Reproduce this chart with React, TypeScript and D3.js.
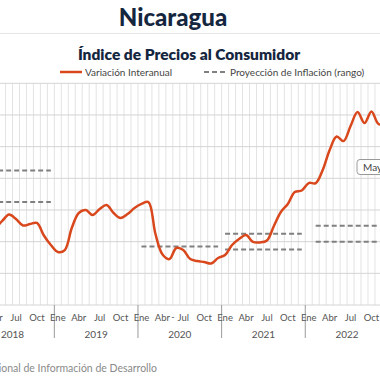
import React from "react";
import * as d3 from "d3";

// Monthly year-on-year CPI variation (%), Jan 2018 .. Dec 2022
const years = [2018, 2019, 2020, 2021, 2022];
const monthNames = ["Ene", "Feb", "Mar", "Abr", "May", "Jun", "Jul", "Ago", "Sep", "Oct", "Nov", "Dic"];
const shownMonths = ["Ene", "Abr", "Jul", "Oct"];
const inflation2018 = [5.24, 5.37, 5.24, 4.92, 5.3, 5.71, 5.43, 5.02, 5.11, 5.18, 4.39, 3.79];
const inflation2019 = [3.35, 3.47, 4.86, 5.81, 6.0, 5.68, 6.06, 6.31, 5.81, 5.49, 5.74, 6.12];
const inflation2020 = [6.38, 6.5, 4.5, 3.2, 2.9, 3.6, 3.47, 2.9, 2.78, 2.71, 2.62, 2.97];
const inflation2021 = [3.16, 3.79, 4.17, 4.42, 3.98, 3.95, 4.07, 4.99, 5.87, 6.38, 7.13, 7.23];
const inflation2022 = [7.7, 7.7, 8.52, 9.79, 10.64, 10.35, 11.3, 12.18, 11.49, 12.22, 11.43, 11.43];
const series = [...inflation2018, ...inflation2019, ...inflation2020, ...inflation2021, ...inflation2022];

// Projection ranges: year, start month, end month, value
const projYears = [2018, 2018, 2020, 2021, 2021, 2022, 2022];
const projStart = [0, 0, 0, 0, 0, 1, 1];
const projEnd = [11, 11, 11, 11, 11, 10, 10];
const projValues = [8.5, 6.5, 3.7, 4.5, 3.5, 5.0, 4.0];

const yTicks = [0, 2, 4, 6, 8, 10, 12, 14];

export default function App() {
  const W = 380, H = 380;
  const x = d3.scaleLinear().domain([0, 60]).range([-29.3, 388.9]);
  const y = d3.scaleLinear().domain([0, 14]).range([305, 83.3]);
  const font = "Lato, 'Open Sans', sans-serif";
  const lineGen = d3
    .line<number>()
    .x((_, i) => x(i + 0.5))
    .y((d) => y(d))
    .curve(d3.curveCatmullRom.alpha(0.5));

  const monthGrid = d3.range(0, 61);

  return (
    <div style={{ position: "absolute", left: 0, top: 0 }}>
      <svg width={W} height={H} style={{ display: "block", background: "#fff" }}>
        <text x={173} y={26} textAnchor="middle" fontFamily={font} fontWeight={900} fontSize={24} fill="#15263f">
          Nicaragua
        </text>
        <line x1={0} x2={W} y1={33.5} y2={33.5} stroke="#e6e6e6" strokeWidth={1} />
        <text x={189} y={60} textAnchor="middle" fontFamily={font} fontWeight={800} fontSize={15.5} fill="#15263f">
          Índice de Precios al Consumidor
        </text>

        {/* legend */}
        <line x1={60} x2={82} y1={72} y2={72} stroke="#d9481c" strokeWidth={2.5} />
        <text x={85} y={75.5} fontFamily={font} fontSize={10} fill="#444">Variación Interanual</text>
        <line x1={204} x2={226} y1={72} y2={72} stroke="#808080" strokeWidth={2} strokeDasharray="5,3" />
        <text x={230} y={75.5} fontFamily={font} fontSize={10} fill="#444">Proyección de Inflación (rango)</text>

        {/* vertical month grid */}
        {monthGrid.map((i) => (
          <line key={"vg" + i} x1={x(i)} x2={x(i)} y1={y(14)} y2={y(0)} stroke="#e3e3e3" strokeWidth={1} />
        ))}
        {/* horizontal grid */}
        {yTicks.map((t) => (
          <line key={"hg" + t} x1={0} x2={W} y1={y(t)} y2={y(t)} stroke="#d4d4d4" strokeWidth={1} />
        ))}

        {/* projection ranges */}
        {projValues.map((v, k) => {
          const base = (projYears[k] - years[0]) * 12;
          return (
            <line
              key={"p" + k}
              x1={x(base + projStart[k] + 0.5)}
              x2={x(base + projEnd[k] + 0.5)}
              y1={y(v)}
              y2={y(v)}
              stroke="#808080"
              strokeWidth={2}
              strokeDasharray="5,3"
            />
          );
        })}

        {/* series line */}
        <path d={lineGen(series) || ""} fill="none" stroke="#d9481c" strokeWidth={2.5} strokeLinejoin="round" />

        {/* tooltip fragment */}
        <rect x={357} y={159.5} width={40} height={15} rx={3} fill="#fff" stroke="#9a9a9a" strokeWidth={1} />
        <text x={363} y={171} fontFamily={font} fontSize={10} fill="#444">May</text>

        {/* x axis */}
        {years.map((yr, k) => (
          <g key={"yr" + yr}>
            <line x1={x(k * 12)} x2={x(k * 12)} y1={305} y2={338} stroke="#9a9a9a" strokeWidth={1} />
            {monthNames.map((m, j) =>
              shownMonths.includes(m) ? (
                <text key={m} x={x(k * 12 + j + 0.5)} y={321} textAnchor="middle" fontFamily={font} fontSize={9.5} fill="#555">
                  {m}
                </text>
              ) : null
            )}
            <text x={x(k * 12 + 6)} y={337.5} textAnchor="middle" fontFamily={font} fontSize={10} fill="#555">
              {yr}
            </text>
          </g>
        ))}
        <line x1={x(60)} x2={x(60)} y1={305} y2={338} stroke="#9a9a9a" strokeWidth={1} />
        <text x={x(29)} y={320} textAnchor="middle" fontFamily={font} fontSize={9} fill="#555">-</text>

        <text x={157} y={372} textAnchor="end" fontFamily={font} fontSize={10.5} fill="#8a8a8a">
          Fuente: Instituto Nacional de Información de  Desarrollo
        </text>
      </svg>
    </div>
  );
}
